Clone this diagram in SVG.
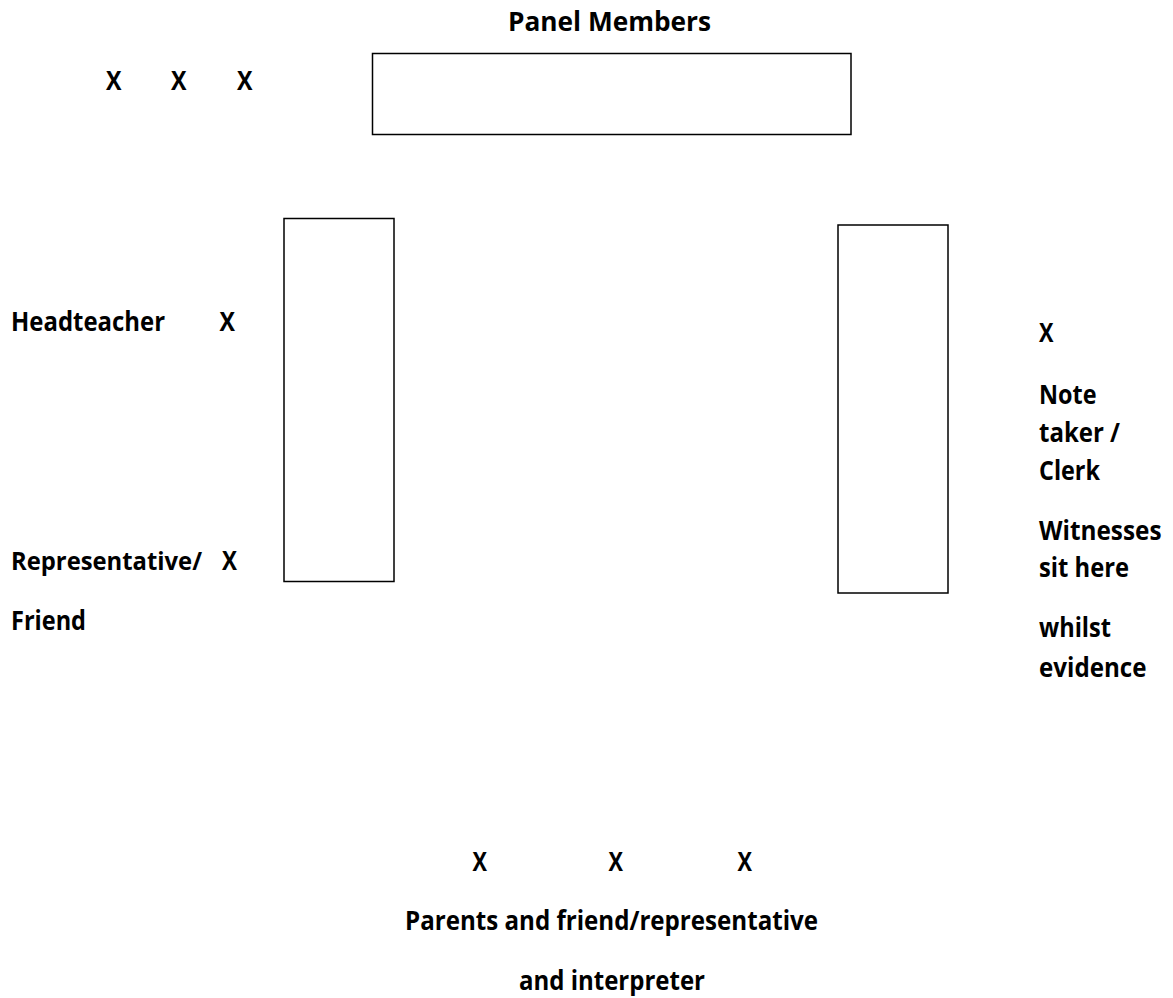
<svg xmlns="http://www.w3.org/2000/svg" width="1173" height="998" viewBox="0 0 1173 998">
<style>
text{font-family:"Open Sans",Lato,"Liberation Sans",sans-serif;font-weight:700;font-size:26.5px;fill:#000}
.tbl{fill:#fff;stroke:#000;stroke-width:1.5}
</style>
<rect width="1173" height="998" fill="#fff"/>
<g id="panel">
<text x="508" y="31" textLength="203" lengthAdjust="spacingAndGlyphs">Panel Members</text>
<rect class="tbl" x="372.5" y="53.5" width="478.5" height="81"/>
<text x="106" y="90" textLength="15.5" lengthAdjust="spacingAndGlyphs">X</text>
<text x="171" y="90" textLength="15.5" lengthAdjust="spacingAndGlyphs">X</text>
<text x="237" y="90" textLength="15.5" lengthAdjust="spacingAndGlyphs">X</text>
</g>
<g id="left-table">
<rect class="tbl" x="284" y="218.5" width="110" height="363"/>
</g>
<g id="headteacher">
<text x="11" y="330.5" textLength="154" lengthAdjust="spacingAndGlyphs">Headteacher</text>
<text x="219.5" y="330.5" textLength="15.5" lengthAdjust="spacingAndGlyphs">X</text>
</g>
<g id="representative">
<text x="11" y="570" style="font-size:24.5px" textLength="191" lengthAdjust="spacingAndGlyphs">Representative/</text>
<text x="222" y="570" textLength="15" lengthAdjust="spacingAndGlyphs">X</text>
<text x="11" y="630" textLength="75" lengthAdjust="spacingAndGlyphs">Friend</text>
</g>
<g id="right-table">
<rect class="tbl" x="838" y="225" width="110" height="368"/>
</g>
<g id="clerk">
<text x="1039" y="341.5" textLength="14.5" lengthAdjust="spacingAndGlyphs">X</text>
<text x="1039" y="403.5" textLength="57.5" lengthAdjust="spacingAndGlyphs">Note</text>
<text x="1039" y="441.5" textLength="81" lengthAdjust="spacingAndGlyphs">taker /</text>
<text x="1039" y="479.5" textLength="61" lengthAdjust="spacingAndGlyphs">Clerk</text>
</g>
<g id="witnesses">
<text x="1039" y="540" textLength="122.5" lengthAdjust="spacingAndGlyphs">Witnesses</text>
<text x="1039" y="577" textLength="90" lengthAdjust="spacingAndGlyphs">sit here</text>
<text x="1039" y="637" textLength="72" lengthAdjust="spacingAndGlyphs">whilst</text>
<text x="1039" y="677" textLength="107.5" lengthAdjust="spacingAndGlyphs">evidence</text>
</g>
<g id="parents">
<text x="472.5" y="870.5" textLength="14.5" lengthAdjust="spacingAndGlyphs">X</text>
<text x="608.5" y="870.5" textLength="14.5" lengthAdjust="spacingAndGlyphs">X</text>
<text x="737.5" y="870.5" textLength="14.5" lengthAdjust="spacingAndGlyphs">X</text>
<text x="405" y="930" textLength="413" lengthAdjust="spacingAndGlyphs">Parents and friend/representative</text>
<text x="519" y="990" textLength="186" lengthAdjust="spacingAndGlyphs">and interpreter</text>
</g>
<g id="connectors"/>
</svg>
